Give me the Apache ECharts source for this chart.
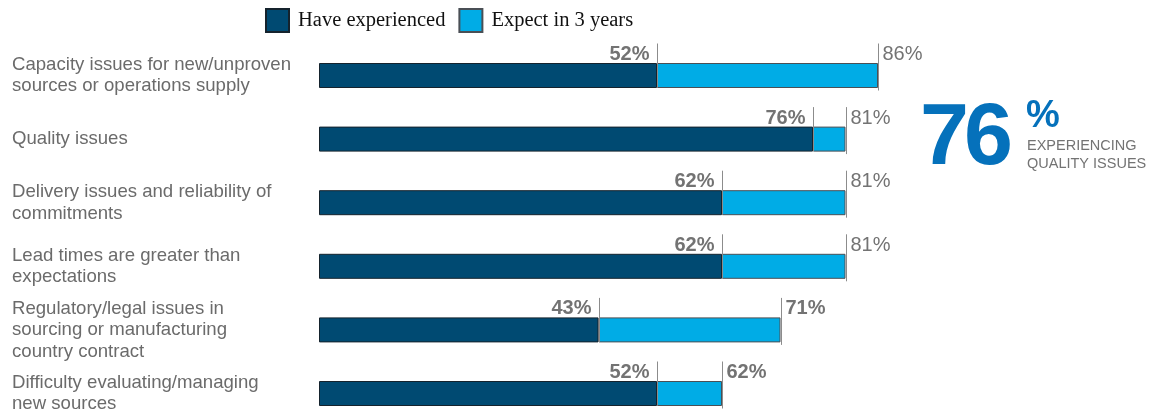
<!DOCTYPE html>
<html>
<head>
<meta charset="utf-8">
<script src="https://cdn.jsdelivr.net/npm/echarts@6/dist/echarts.min.js"></script>
<style>
  html, body { margin: 0; padding: 0; background: #ffffff; }
  #main { width: 1150px; height: 417px; }
</style>
</head>
<body>
<div id="main"></div>
<script>
// 数据
var categories = [
  'Capacity issues for new/unproven\nsources or operations supply',
  'Quality issues',
  'Delivery issues and reliability of\ncommitments',
  'Lead times are greater than\nexpectations',
  'Regulatory/legal issues in\nsourcing or manufacturing\ncountry contract',
  'Difficulty evaluating/managing\nnew sources'
]
var experienced = [52, 76, 62, 62, 43, 52]
var expected = [86, 81, 81, 81, 71, 62]

var gray = '#737373'

// 堆叠部分 = 预期 - 已经历
var extra = []
var markers = []
for (var i = 0; i < categories.length; i++) {
  extra.push(expected[i] - experienced[i])
  markers.push([experienced[i], i, experienced[i] + '%', 'left'])
  markers.push([expected[i], i, expected[i] + '%', 'right'])
}

var chart = echarts.init(document.getElementById('main'))
var option = {
  animation: false,
  legend: {
    left: 260,
    top: 3,
    itemWidth: 23,
    itemHeight: 23,
    itemGap: 13,
    icon: 'rect',
    textStyle: {
      fontFamily: 'Liberation Serif',
      fontSize: 20.5,
      color: '#111111',
      padding: [0, 0, 0, 4]
    },
    data: ['Have experienced', 'Expect in 3 years']
  },
  grid: { left: 319, width: 650, top: 75.5, height: 318 },
  xAxis: { type: 'value', min: 0, max: 100, show: false },
  yAxis: {
    type: 'category',
    inverse: true,
    boundaryGap: false,
    data: categories,
    axisLine: { show: false },
    axisTick: { show: false },
    splitLine: { show: false },
    axisLabel: {
      align: 'left',
      margin: 307,
      color: '#6b6b6b',
      fontFamily: 'Liberation Sans',
      fontSize: 18.6,
      lineHeight: 21.5
    }
  },
  series: [
    {
      name: 'Have experienced',
      type: 'bar',
      stack: 'total',
      barWidth: 25,
      itemStyle: { color: '#004a72', borderColor: '#15232d', borderWidth: 1 },
      data: experienced
    },
    {
      name: 'Expect in 3 years',
      type: 'bar',
      stack: 'total',
      barWidth: 25,
      itemStyle: { color: '#00ace6', borderColor: '#4a4f55', borderWidth: 1 },
      data: extra
    },
    {
      type: 'custom',
      silent: true,
      z: 5,
      encode: { x: 0, y: 1 },
      data: markers,
      renderItem: function(params, api) {
        var p = api.coord([api.value(0), api.value(1)])
        var x = Math.round(p[0]) + 0.5
        var y = p[1]
        var side = markers[params.dataIndex][3]
        var txt = markers[params.dataIndex][2]
        var bold = side === 'left' || api.value(1) >= 4
        return {
          type: 'group',
          children: [
            {
              type: 'line',
              shape: { x1: x, y1: y - 32, x2: x, y2: y + (side === 'left' ? 12 : 15) },
              style: { stroke: '#8c8c8c', lineWidth: 1 }
            },
            {
              type: 'text',
              style: {
                text: txt,
                x: side === 'left' ? x - 8 : x + 4,
                y: y - 21,
                align: side === 'left' ? 'right' : 'left',
                verticalAlign: 'middle',
                fill: gray,
                font: (bold ? 'bold ' : '') + '20px "Liberation Sans"'
              }
            }
          ]
        }
      }
    }
  ],
  graphic: [
    { type: 'text', left: 920, top: 96, style: { text: '7', fill: '#0571bb', font: 'bold 88px "Liberation Sans"' } },
    { type: 'text', left: 964, top: 96, style: { text: '6', fill: '#0571bb', font: 'bold 88px "Liberation Sans"' } },
    { type: 'text', left: 1026, top: 98, style: { text: '%', fill: '#0571bb', font: 'bold 38px "Liberation Sans"' } },
    { type: 'text', left: 1027, top: 138, style: { text: 'EXPERIENCING', fill: gray, font: '14.5px "Liberation Sans"' } },
    { type: 'text', left: 1027, top: 156, style: { text: 'QUALITY ISSUES', fill: gray, font: '14.5px "Liberation Sans"' } }
  ]
}
chart.setOption(option)
</script>
</body>
</html>
